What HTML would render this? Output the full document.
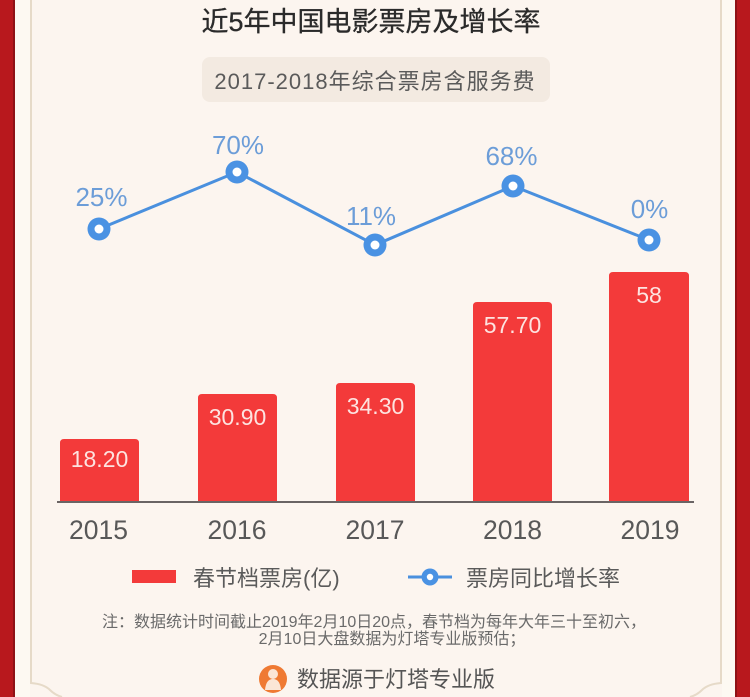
<!DOCTYPE html>
<html>
<head>
<meta charset="utf-8">
<style>
html,body{margin:0;padding:0;background:#fcf5ef;}
body{width:750px;height:697px;overflow:hidden;}
svg{display:block;}
text{font-family:"Liberation Sans","Noto Sans CJK SC",sans-serif;}
</style>
</head>
<body>
<svg width="750" height="697" viewBox="0 0 750 697" xmlns="http://www.w3.org/2000/svg">
  <!-- background -->
  <rect x="0" y="0" width="750" height="697" fill="#fcf5ef"/>
  <!-- left border -->
  <rect x="0" y="0" width="15" height="697" fill="#b8181d"/>
  <rect x="13" y="0" width="2" height="697" fill="#8e1216"/>
  <rect x="15" y="0" width="15" height="697" fill="#fdf9f2"/>
  <!-- right border -->
  <rect x="735" y="0" width="15" height="697" fill="#b8181d"/>
  <rect x="735" y="0" width="2" height="697" fill="#8e1216"/>
  <rect x="722" y="0" width="13" height="697" fill="#fdf9f2"/>
  <!-- inner thin lines with decorative bottom corners -->
  <path d="M31,0 V683 Q44,684 50,690 Q55,695 62,697" fill="none" stroke="#e6dac8" stroke-width="2"/>
  <path d="M721,0 V683 Q708,684 702,690 Q697,695 690,697" fill="none" stroke="#e6dac8" stroke-width="2"/>

  <!-- title -->
  <text x="371" y="31" font-size="27" fill="#2a2a2a" text-anchor="middle" stroke="#2a2a2a" stroke-width="0.3">近5年中国电影票房及增长率</text>

  <!-- subtitle box -->
  <rect x="202" y="57" width="348" height="45" rx="8" fill="#f3eae1"/>
  <text x="375" y="89" font-size="22" fill="#5a5a5a" text-anchor="middle" letter-spacing="1">2017-2018年综合票房含服务费</text>

  <!-- bars -->
  <g fill="#f33a3a">
    <path d="M60,502 V443 Q60,439 64,439 H135 Q139,439 139,443 V502 Z"/>
    <path d="M198,502 V398 Q198,394 202,394 H273 Q277,394 277,398 V502 Z"/>
    <path d="M336,502 V387 Q336,383 340,383 H411 Q415,383 415,387 V502 Z"/>
    <path d="M473,502 V306 Q473,302 477,302 H548 Q552,302 552,306 V502 Z"/>
    <path d="M609,502 V276 Q609,272 613,272 H685 Q689,272 689,276 V502 Z"/>
  </g>
  <!-- axis -->
  <rect x="57" y="501" width="637" height="2" fill="#6a6464"/>

  <!-- bar labels -->
  <g font-size="23" fill="#fde3e0" text-anchor="middle">
    <text x="99.5" y="467">18.20</text>
    <text x="237.5" y="425">30.90</text>
    <text x="375.5" y="414">34.30</text>
    <text x="512.5" y="333">57.70</text>
    <text x="649" y="303">58</text>
  </g>

  <!-- year labels -->
  <g font-size="26.5" fill="#585858" text-anchor="middle">
    <text x="98.5" y="539">2015</text>
    <text x="237" y="539">2016</text>
    <text x="375" y="539">2017</text>
    <text x="512.5" y="539">2018</text>
    <text x="650" y="539">2019</text>
  </g>

  <!-- line series -->
  <polyline points="99,229 237,172 375,245 513,186 649,240" fill="none" stroke="#4a90de" stroke-width="3"/>
  <g fill="#4a92e3">
    <circle cx="99" cy="229" r="11.5"/>
    <circle cx="237" cy="172" r="11.5"/>
    <circle cx="375" cy="245" r="11.5"/>
    <circle cx="513" cy="186" r="11.5"/>
    <circle cx="649" cy="240" r="11.5"/>
  </g>
  <g fill="#ffffff">
    <circle cx="99" cy="229" r="4.5"/>
    <circle cx="237" cy="172" r="4.5"/>
    <circle cx="375" cy="245" r="4.5"/>
    <circle cx="513" cy="186" r="4.5"/>
    <circle cx="649" cy="240" r="4.5"/>
  </g>

  <!-- percent labels -->
  <g font-size="26" fill="#6c9dd8" text-anchor="middle">
    <text x="101.5" y="206">25%</text>
    <text x="238" y="154">70%</text>
    <text x="371" y="225">11%</text>
    <text x="511.5" y="165">68%</text>
    <text x="649.5" y="218">0%</text>
  </g>

  <!-- legend -->
  <rect x="132" y="570" width="44" height="13" fill="#f33a3a"/>
  <text x="193" y="586" font-size="22" fill="#5a5a5a">春节档票房(亿)</text>
  <line x1="408" y1="577" x2="452" y2="577" stroke="#4a90de" stroke-width="3"/>
  <circle cx="430" cy="577" r="8.5" fill="#4a92e3"/>
  <circle cx="430" cy="577" r="3.2" fill="#ffffff"/>
  <text x="466" y="586" font-size="22" fill="#5a5a5a">票房同比增长率</text>

  <!-- note -->
  <text x="374" y="627" font-size="16" fill="#6a6a6a" text-anchor="middle">注：数据统计时间截止2019年2月10日20点，春节档为每年大年三十至初六，</text>
  <text x="392" y="644" font-size="16" fill="#6a6a6a" text-anchor="middle">2月10日大盘数据为灯塔专业版预估；</text>

  <!-- footer -->
  <circle cx="273" cy="679" r="14" fill="#ef7a33"/>
  <circle cx="273" cy="674" r="5" fill="#fbe6d6"/>
  <path d="M265,690 Q266,679 273,679 Q280,679 281,690 Z" fill="#fbe6d6"/>
  <text x="297" y="687" font-size="22" fill="#555555">数据源于灯塔专业版</text>
</svg>
</body>
</html>
